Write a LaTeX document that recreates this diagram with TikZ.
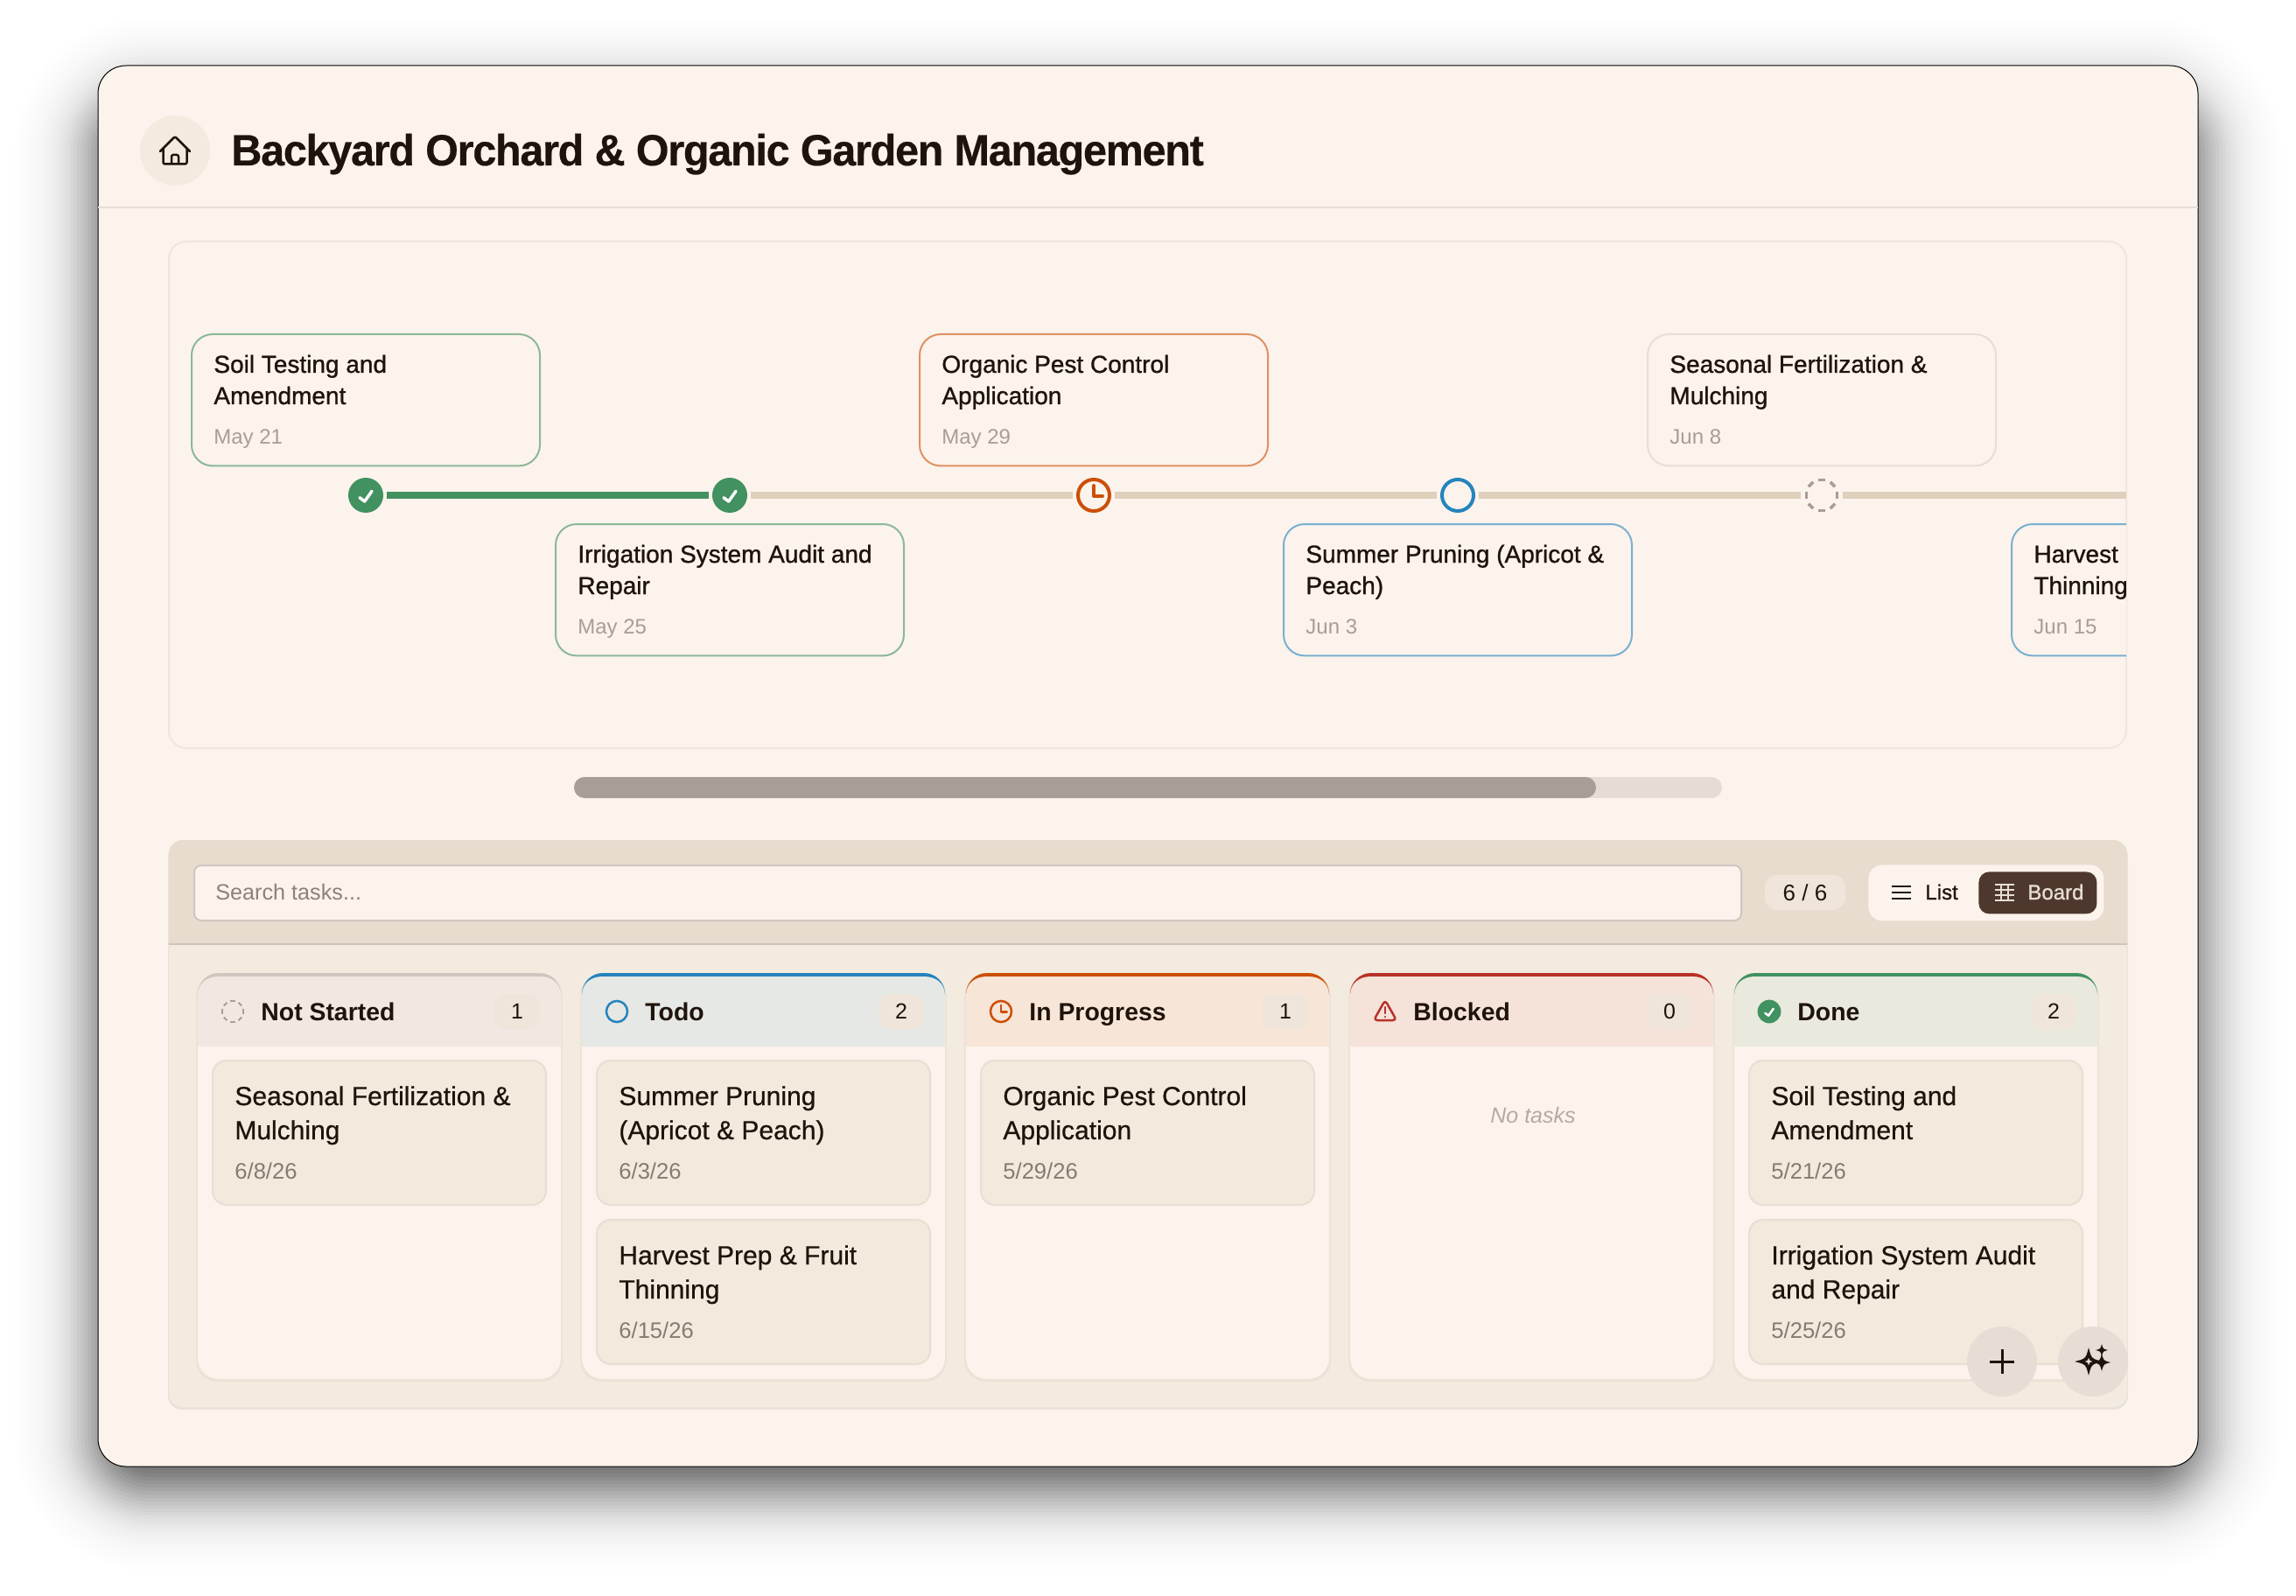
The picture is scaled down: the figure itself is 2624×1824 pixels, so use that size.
\documentclass[tikz,border=0pt]{standalone}
\usepackage{fontspec}
\setmainfont{Liberation Sans}
\newfontfamily\medfont[FakeBold=0.6]{Liberation Sans}
\newfontfamily\semifont[FakeBold=1.0]{Liberation Sans}
\newfontfamily\titlefont[FakeStretch=.97,LetterSpace=-2.5,FakeBold=0.4]{Liberation Sans}
\usetikzlibrary{calc}

\definecolor{winbg}{HTML}{FBF3EC}
\definecolor{ink}{HTML}{1F140C}
\definecolor{faint}{HTML}{A89E94}
\definecolor{rule}{HTML}{E8DED3}
\definecolor{track}{HTML}{DFD0BC}
\definecolor{donec}{HTML}{429160}
\definecolor{todoc}{HTML}{2484BD}
\definecolor{progc}{HTML}{CC4F08}
\definecolor{blockc}{HTML}{B83228}
\definecolor{idlec}{HTML}{CFC7BF}
\definecolor{taskbg}{HTML}{F3EADD}
\definecolor{boardbg}{HTML}{F3EBDF}
\definecolor{barbg}{HTML}{E8DCCF}
\definecolor{pillbg}{HTML}{EFE5DA}
\definecolor{fabbg}{HTML}{E6DED5}
\definecolor{btnbg}{HTML}{4E382E}
\definecolor{scrolltrack}{HTML}{E5DCD6}
\definecolor{scrollthumb}{HTML}{A89D97}
\definecolor{headidle}{HTML}{F1E9E1}
\definecolor{headtodo}{HTML}{E5E8E5}
\definecolor{headprog}{HTML}{F7E5D7}
\definecolor{headblock}{HTML}{F5E2D9}
\definecolor{headdone}{HTML}{E9E9DD}

\tikzset{
  tlcard/.style={draw=#1,fill=winbg,line width=1pt,rounded corners=12pt,inner sep=0pt,outer sep=0pt,
    minimum width=199pt,minimum height=75.2pt,anchor=north west},
  tltitle/.style={font=\semifont\fontsize{14}{18}\selectfont,text=ink,align=left,anchor=base west,inner sep=0pt},
  tldate/.style={font=\fontsize{12}{14}\selectfont,text=faint,anchor=base west,inner sep=0pt},
  dot/.style={circle,minimum size=24pt,inner sep=0pt},
  trackline/.style={color=#1,line width=4pt},
  taskcard/.style={draw=rule,fill=taskbg,line width=1pt,rounded corners=8pt,inner sep=0pt,outer sep=0pt,
    minimum width=190.5pt,minimum height=82.5pt,anchor=north west},
  tasktitle/.style={font=\medfont\fontsize{15}{19.5}\selectfont,text=ink,align=left,anchor=base west,inner sep=0pt},
  taskdate/.style={font=\fontsize{12.8}{14}\selectfont,text=faint!75!ink,anchor=base west,inner sep=0pt},
  colhead/.style={font=\bfseries\fontsize{14.2}{17}\selectfont,text=ink,anchor=base west,inner sep=0pt},
  badge/.style={fill=pillbg,rounded corners=6pt,minimum width=26pt,minimum height=20pt,inner sep=0pt,
    font=\fontsize{12.5}{15}\selectfont,text=ink},
  fab/.style={circle,fill=fabbg,minimum size=40pt,inner sep=0pt},
  pics/check/.style 2 args={code={
    \fill[donec] (0,0) circle (20);
    \draw[white,line width=#2,line cap=round,line join=round] (-7,2.7) -- (-1.3,7) -- (7,-4.7);}},
  pics/ring/.style 2 args={code={\draw[todoc,line width=#2] (0,0) circle (18);}},
  pics/clock/.style 2 args={code={
    \draw[progc,line width=#2] (0,0) circle (18);
    \draw[progc,line width=#2,line cap=round,line join=round] (0,-11) -- (0,1) -- (10,1);}},
  pics/dashring/.style 2 args={code={
    \foreach \a in {0,45,...,315}
      \draw[#1,line width=#2] ({18*cos(\a-12)},{18*sin(\a-12)}) -- ({18*cos(\a+12)},{18*sin(\a+12)});}},
}

\newcommand{\tlentry}[6]{%
  \node[tlcard=#4] (#1) at (#2,#3) {};
  \node[tltitle] (#1title) at ($(#1.north west)+(25,80)$) {#5};
  \node[tldate] (#1date) at ($(#1.north west)+(25,125.5)$) {#6};
}
\newcommand{\taskentry}[5]{%
  \node[taskcard] (#1) at (#2,#3) {};
  \node[tasktitle] (#1title) at ($(#1.north west)+(25,90)$) {#4};
  \node[taskdate] (#1date) at ($(#1.north west)+(25,135)$) {#5};
}
\newcommand{\kcolumn}[6]{%
  \fill[black,opacity=.03,rounded corners=12pt] (#2-2,1114) rectangle (#2+417,1579);
  \fill[winbg,rounded corners=12pt] (#2,1112) rectangle (#2+415,1576);
  \fill[#3] (#2,1138) [rounded corners=12pt] -- (#2,1112) -- (#2+415,1112) [sharp corners] -- (#2+415,1138) -- cycle;
  \fill[#4] (#2,1196) -- (#2,1138) .. controls (#2,1124) and (#2+10,1116) .. (#2+24,1116)
    -- (#2+391,1116) .. controls (#2+405,1116) and (#2+415,1124) .. (#2+415,1138) -- (#2+415,1196) -- cycle;
  \node[colhead] (#1head) at (#2+72,1166) {#5};
  \node[badge] (#1count) at (#2+365,1156) {#6};
  \coordinate (#1icon) at (#2+40,1156);
}
\newcommand{\starshape}[3]{(#1,#2-#3) .. controls (#1+.2*#3,#2-.2*#3) .. (#1+#3,#2)
  .. controls (#1+.2*#3,#2+.2*#3) .. (#1,#2+#3)
  .. controls (#1-.2*#3,#2+.2*#3) .. (#1-#3,#2)
  .. controls (#1-.2*#3,#2-.2*#3) .. (#1,#2-#3) -- cycle}

\begin{document}
\begin{tikzpicture}[x=0.5pt,y=-0.5pt]
  \useasboundingbox (0,0) rectangle (2624,1824);
  \fill[white] (0,0) rectangle (2624,1824);

  % window shadow, built from stacked layers
  \foreach \d in {100,96,...,-100} {
    \pgfmathsetmacro{\cnow}{.73/(1+exp(1.7*\d/40))}
    \pgfmathsetmacro{\cout}{.73/(1+exp(1.7*(\d+4)/40))}
    \pgfmathsetmacro{\alay}{1-(1-\cnow)/(1-\cout)}
    \pgfmathsetmacro{\rlay}{max(4,0.5*(60+\d))}
    \fill[black,opacity=\alay,rounded corners=\rlay pt] (112-\d,115-\d) rectangle (2512+\d,1700+\d);
  }

  % window
  \draw[fill=winbg,draw=black,line width=.5pt,rounded corners=16pt] (112,75) rectangle (2512,1676);
  \draw[rule,line width=1pt] (112,237) -- (2512,237);

  % header
  \node[circle,fill=boardbg,minimum size=40pt,inner sep=0pt] (homebtn) at (200,172) {};
  \draw[ink,line width=1.25pt,line cap=round,line join=round,rounded corners=1pt]
    ($(homebtn)+(-17,1)$) -- ($(homebtn)+(0,-16)$) -- ($(homebtn)+(17,1)$)
    ($(homebtn)+(-13.5,-2)$) -- ($(homebtn)+(-13.5,15.5)$) -- ($(homebtn)+(13.5,15.5)$) -- ($(homebtn)+(13.5,-2)$)
    ($(homebtn)+(-4,15.5)$) -- ($(homebtn)+(-4,5)$) -- ($(homebtn)+(4,5)$) -- ($(homebtn)+(4,15.5)$);
  \node[font=\titlefont\bfseries\fontsize{25}{30}\selectfont,text=ink,anchor=base west,inner sep=0pt] (title) at (264,189)
    {Backyard Orchard \& Organic Garden Management};

  % timeline
  \draw[draw=rule!60!winbg,line width=1pt,rounded corners=10pt] (193,276) rectangle (2430,855);
  \begin{scope}
    \clip[rounded corners=10pt] (193,276) rectangle (2430,855);
    \tlentry{soil}{219}{382}{donec!60!winbg}{Soil Testing and\\Amendment}{May 21}
    \tlentry{irrig}{635}{599}{donec!60!winbg}{Irrigation System Audit and\\Repair}{May 25}
    \tlentry{pest}{1051}{382}{progc!60!winbg}{Organic Pest Control\\Application}{May 29}
    \tlentry{prune}{1467}{599}{todoc!60!winbg}{Summer Pruning (Apricot \&\\Peach)}{Jun 3}
    \tlentry{fert}{1883}{382}{rule}{Seasonal Fertilization \&\\Mulching}{Jun 8}
    \tlentry{harv}{2299}{599}{todoc!60!winbg}{Harvest Prep \&\\Thinning}{Jun 15}

    \node[dot] (d1) at (418,566) {};
    \node[dot] (d2) at (834,566) {};
    \node[dot] (d3) at (1250,566) {};
    \node[dot] (d4) at (1666,566) {};
    \node[dot] (d5) at (2082,566) {};
    \coordinate (trackend) at (2430,566);
    \draw[trackline=donec] (d1) -- (d2);
    \draw[trackline=track] (d2) -- (d3);
    \draw[trackline=track] (d3) -- (d4);
    \draw[trackline=track] (d4) -- (d5);
    \draw[trackline=track] (d5) -- (trackend);
    \pic at (d1) {check={donec}{1.75pt}};
    \pic at (d2) {check={donec}{1.75pt}};
    \pic at (d3) {clock={progc}{2pt}};
    \pic at (d4) {ring={todoc}{2pt}};
    \pic at (d5) {dashring={faint}{1.75pt}};
  \end{scope}

  % scrollbar
  \fill[scrolltrack,rounded corners=6pt] (656,888) rectangle (1968,912);
  \fill[scrollthumb,rounded corners=6pt] (656,888) rectangle (1824,912);

  % board panel
  \fill[black,opacity=.07,rounded corners=8pt] (192,963) rectangle (2432,1611);
  \fill[boardbg,rounded corners=8pt] (193,960) rectangle (2431,1608);
  \begin{scope}
    \clip[rounded corners=8pt] (193,960) rectangle (2431,1608);
    \fill[barbg] (193,960) rectangle (2431,1079);
    \draw[barbg!88!ink,line width=1pt] (193,1079) -- (2431,1079);
  \end{scope}

  % toolbar
  \node[draw=idlec,fill=winbg,line width=1pt,rounded corners=4pt,inner sep=0pt,outer sep=0pt,minimum width=884pt,minimum height=31.5pt,anchor=north west] (search) at (222,989) {};
  \node[font=\fontsize{12.6}{15}\selectfont,text=faint!80!ink,anchor=base west,inner sep=0pt] (searchtext) at (246,1028) {Search tasks...};
  \node[fill=pillbg,rounded corners=7pt,minimum width=46pt,minimum height=20pt,inner sep=0pt,
    font=\fontsize{13}{15}\selectfont,text=ink] (counter) at (2063,1020) {6 / 6};
  \node[fill=winbg,rounded corners=8pt,minimum width=134.5pt,minimum height=32pt,inner sep=0pt,anchor=north west] (toggle) at (2135,988) {};
  \node[fill=btnbg,rounded corners=6pt,minimum width=67.5pt,minimum height=24pt,inner sep=0pt,anchor=north west] (boardbtn) at (2261,996) {};
  \node[font=\semifont\fontsize{12}{14}\selectfont,text=ink,anchor=base west,inner sep=0pt] (listtext) at (2200,1028) {List};
  \node[font=\semifont\fontsize{12}{14}\selectfont,text=rule,anchor=base west,inner sep=0pt] (boardtext) at (2317,1028) {Board};
  \draw[ink,line width=1.25pt] (2162,1013) -- (2184,1013) (2162,1020) -- (2184,1020) (2162,1027) -- (2184,1027);
  \draw[rule,line width=1pt] (2280,1011) -- (2302,1011) (2280,1017) -- (2302,1017) (2280,1023) -- (2302,1023) (2280,1029) -- (2302,1029)
    (2287,1011) -- (2287,1029) (2295,1011) -- (2295,1029);

  % columns
  \kcolumn{idle}{226}{idlec}{headidle}{Not Started}{1}
  \kcolumn{todo}{665}{todoc}{headtodo}{Todo}{2}
  \kcolumn{prog}{1104}{progc}{headprog}{In Progress}{1}
  \kcolumn{block}{1543}{blockc}{headblock}{Blocked}{0}
  \kcolumn{done}{1982}{donec}{headdone}{Done}{2}
  \pic[scale=.67] at (idleicon) {dashring={faint}{1pt}};
  \pic[scale=.67] at (todoicon) {ring={todoc}{1.25pt}};
  \pic[scale=.67] at (progicon) {clock={progc}{1.25pt}};
  \pic[scale=.67] at (doneicon) {check={donec}{1.25pt}};
  \draw[blockc,line width=1.25pt,line join=round,rounded corners=2pt] ($(blockicon)+(0,-13)$) -- ($(blockicon)+(13,10)$) -- ($(blockicon)+(-13,10)$) -- cycle;
  \draw[blockc,line width=1.25pt,line cap=round] ($(blockicon)+(0,-5)$) -- ($(blockicon)+(0,2)$) ($(blockicon)+(0,6)$) -- ($(blockicon)+(0,6.2)$);

  % tasks
  \taskentry{t1}{243}{1212}{Seasonal Fertilization \&\\Mulching}{6/8/26}
  \taskentry{t2}{682}{1212}{Summer Pruning\\(Apricot \& Peach)}{6/3/26}
  \taskentry{t3}{682}{1394}{Harvest Prep \& Fruit\\Thinning}{6/15/26}
  \taskentry{t4}{1121}{1212}{Organic Pest Control\\Application}{5/29/26}
  \taskentry{t5}{1999}{1212}{Soil Testing and\\Amendment}{5/21/26}
  \taskentry{t6}{1999}{1394}{Irrigation System Audit\\and Repair}{5/25/26}
  \node[font=\itshape\fontsize{12.5}{15}\selectfont,text=faint!85!winbg,anchor=base] (notasks) at (1752,1283) {No tasks};

  % floating buttons
  \node[fab] (addbtn) at (2288,1556) {};
  \node[fab] (aibtn) at (2392,1556) {};
  \draw[ink,line width=1.5pt] ($(addbtn)+(-14,0)$) -- ($(addbtn)+(14,0)$) ($(addbtn)+(0,-14)$) -- ($(addbtn)+(0,14)$);
  \fill[ink,even odd rule] \starshape{2387}{1556}{16} \starshape{2387}{1556}{5};
  \fill[ink] \starshape{2402}{1557}{10};
  \fill[ink] \starshape{2402}{1543}{7};
\end{tikzpicture}
\end{document}
